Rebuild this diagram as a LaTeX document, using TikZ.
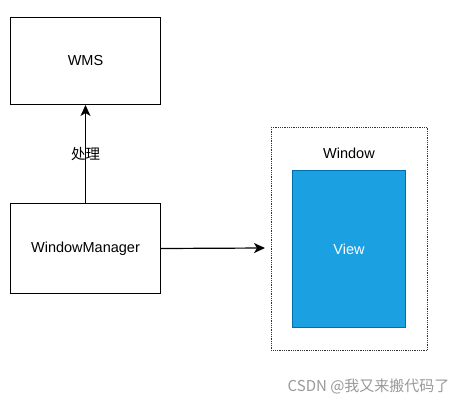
\documentclass[tikz,border=0pt]{standalone}
\usepackage{fontspec}
\setmainfont{Liberation Sans}
\newfontfamily\cjk{Noto Sans CJK SC}
\usetikzlibrary{arrows.meta}
\definecolor{viewfill}{HTML}{1BA1E2}
\definecolor{viewdraw}{HTML}{006EAF}
\definecolor{wm}{HTML}{999999}
\begin{document}
\begin{tikzpicture}[x=1pt,y=-1pt,
  box/.style={draw=black,line width=1pt,fill=white,font=\fontsize{14.5}{17}\selectfont},
  conn/.style={draw=black,line width=1.2pt,-{Stealth[length=11pt,width=10pt,inset=3pt]}},
  lbl/.style={font=\fontsize{14.5}{17}\selectfont}]
\useasboundingbox (0,0) rectangle (464,408);
\fill[white] (0,0) rectangle (464,408);
\node[box,minimum width=150pt,minimum height=87pt,anchor=north west] (wms) at (10,17) {WMS};
\node[box,minimum width=150pt,minimum height=90pt,anchor=north west] (wmgr) at (10,203) {WindowManager};
\node[draw=black!80,densely dotted,line width=0.8pt,minimum width=156pt,minimum height=223pt,anchor=north west] (win) at (271,127) {};
\node[lbl] (wintext) at (349,153) {Window};
\node[draw=viewdraw,fill=viewfill,line width=1pt,minimum width=113pt,minimum height=157pt,anchor=north west,text=white,font=\fontsize{14.5}{17}\selectfont] (view) at (292,170) {View};
\coordinate (tipR) at (265,248);
\draw[conn] (wmgr.north) -- node[lbl,inner sep=1pt,font=\cjk\fontsize{14.5}{17}\selectfont] (lab) {处理} (wms.south);
\draw[conn] (wmgr.east) -- (tipR);
\node[anchor=east,text=wm,font=\cjk\fontsize{15}{18}\selectfont] (mark) at (453,386) {CSDN @我又来搬代码了};
\end{tikzpicture}
\end{document}
